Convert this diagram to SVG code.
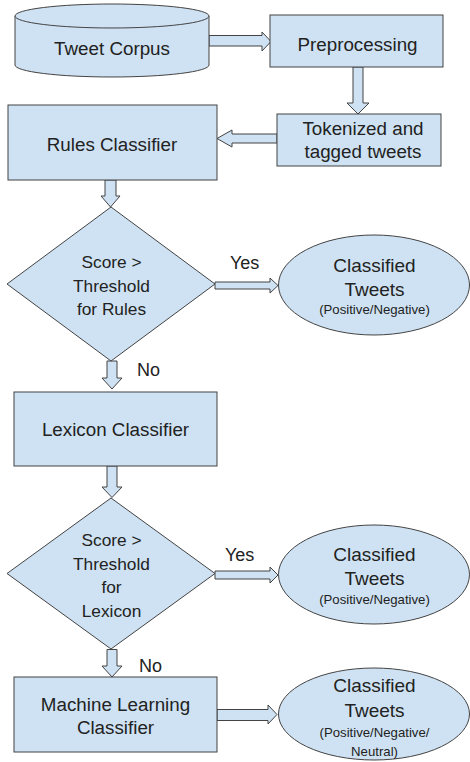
<svg xmlns="http://www.w3.org/2000/svg" width="470" height="762" viewBox="0 0 470 762">
<style>
.n{fill:#cfe2f3;stroke:#434343;stroke-width:1}
.a{fill:#cfe2f3;stroke:#434343;stroke-width:1;stroke-linejoin:miter}
text{font-family:"Liberation Sans",Arial,sans-serif;fill:#222;text-anchor:middle}
.t{font-size:18.8px}
.d{font-size:17.3px}
.s{font-size:13.2px}
.l{font-size:18px;text-anchor:start}
.e{font-size:19px}
</style>
<rect width="470" height="762" fill="#fff"/>
<g id="connectors">
<path class="a" d="M209,35.5 H262 V32 L271,41.5 L262,51 V46 H209 Z"/>
<path class="a" d="M353,67 V103 H347 L358,114 L369,103 H363 V67 Z"/>
<path class="a" d="M277,134 H232 V130 L217,138.5 L232,147 V143 H277 Z"/>
<path class="a" d="M105,180 V196 H101 L110.5,207 L120,196 H116 V180 Z"/>
<path class="a" d="M215,282 H270 V278 L278,285.5 L270,293 V289 H215 Z"/>
<path class="a" d="M107,361 V378 H102 L112,389 L122,378 H117 V361 Z"/>
<path class="a" d="M107,466 V487 H102 L112,497.5 L122,487 H117 V466 Z"/>
<path class="a" d="M215,571 H270 V567 L278,575 L270,583 V579 H215 Z"/>
<path class="a" d="M107,649.5 V666 H102 L112,677 L122,666 H117 V649.5 Z"/>
<path class="a" d="M217,709.5 H268 V705 L277,714.5 L268,724 V720.5 H217 Z"/>
</g>
<g id="tweet-corpus">
<path class="n" d="M15,16 A97,12 0 0 1 209,16 V65 A97,12 0 0 1 15,65 Z"/>
<path class="n" fill="none" d="M15,16 A97,12 0 0 0 209,16"/>
<text class="t" x="112" y="55">Tweet Corpus</text>
</g>
<g id="preprocessing">
<rect class="n" x="270" y="15" width="173" height="52"/>
<text class="t" x="357.5" y="51">Preprocessing</text>
</g>
<g id="tokenized">
<rect class="n" x="277" y="114" width="164" height="52"/>
<text class="t" x="363" y="135">Tokenized and</text>
<text class="t" x="363" y="158">tagged tweets</text>
</g>
<g id="rules-classifier">
<rect class="n" x="8" y="105" width="209" height="75"/>
<text class="t" x="112" y="151">Rules Classifier</text>
</g>
<g id="rules-decision">
<polygon class="n" points="111,207 215,284 111,361 7,284"/>
<text class="d" x="111.5" y="268">Score &gt;</text>
<text class="d" x="111.5" y="292">Threshold</text>
<text class="d" x="111.5" y="315">for Rules</text>
</g>
<g id="classified-1">
<ellipse class="n" cx="374" cy="285" rx="95.5" ry="50"/>
<text class="e" x="374.5" y="272">Classified</text>
<text class="e" x="374.5" y="296">Tweets</text>
<text class="s" x="374.5" y="314">(Positive/Negative)</text>
</g>
<g id="lexicon-classifier">
<rect class="n" x="14" y="392" width="203" height="74"/>
<text class="t" x="115.5" y="436">Lexicon Classifier</text>
</g>
<g id="lexicon-decision">
<polygon class="n" points="111,498 215,573.5 111,649 7,573.5"/>
<text class="d" x="111.5" y="546">Score &gt;</text>
<text class="d" x="111.5" y="570">Threshold</text>
<text class="d" x="111.5" y="593">for</text>
<text class="d" x="111.5" y="617">Lexicon</text>
</g>
<g id="classified-2">
<ellipse class="n" cx="374" cy="574.5" rx="95.5" ry="49.5"/>
<text class="e" x="374.5" y="561">Classified</text>
<text class="e" x="374.5" y="585">Tweets</text>
<text class="s" x="374.5" y="604">(Positive/Negative)</text>
</g>
<g id="ml-classifier">
<rect class="n" x="14" y="677" width="203" height="75"/>
<text class="t" x="115.5" y="711">Machine Learning</text>
<text class="t" x="115.5" y="734">Classifier</text>
</g>
<g id="classified-3">
<ellipse class="n" cx="374" cy="714" rx="95.5" ry="46"/>
<text class="e" x="374.5" y="692">Classified</text>
<text class="e" x="374.5" y="717">Tweets</text>
<text class="s" x="374.5" y="737">(Positive/Negative/</text>
<text class="s" x="374.5" y="756">Neutral)</text>
</g>
<g id="labels">
<text class="l" x="230" y="269">Yes</text>
<text class="l" x="137" y="376">No</text>
<text class="l" x="225" y="561">Yes</text>
<text class="l" x="139" y="672">No</text>
</g>
</svg>
